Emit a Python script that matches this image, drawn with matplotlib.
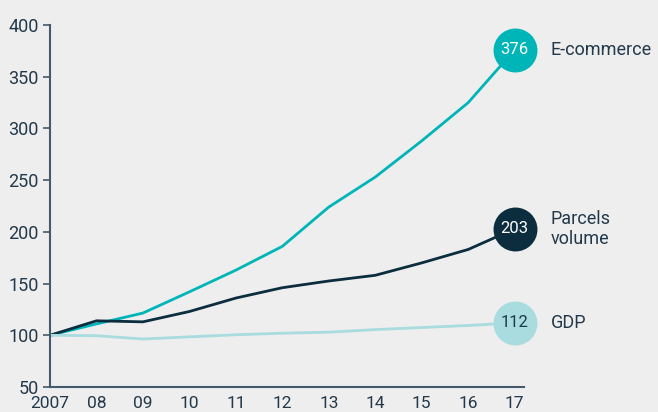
import matplotlib
matplotlib.use("Agg")
import matplotlib.pyplot as plt

# index values, 2007 = 100
years = [2007, 2008, 2009, 2010, 2011, 2012, 2013, 2014, 2015, 2016, 2017]
year_labels = ["2007", "08", "09", "10", "11", "12", "13", "14", "15", "16", "17"]
ecommerce = [100, 111, 121.5, 142, 163, 186, 224, 253, 288, 325, 376]
parcels = [100, 114, 113, 123, 136, 146, 152.5, 158, 170, 183, 203]
gdp = [100, 99.6, 96.4, 98.5, 100.5, 102, 103, 105.5, 107.5, 109.5, 112]

series = [
    ("E-commerce", ecommerce, "#00b5b8", "white"),
    ("Parcels\nvolume", parcels, "#0b2d3d", "white"),
    ("GDP", gdp, "#a8dcdf", "#1f3a48"),
]

bg = "#eeeeee"
axis_col = "#44596a"
text_col = "#23394a"

plt.rcParams["font.family"] = ["Roboto", "DejaVu Sans"]

fig = plt.figure(figsize=(6.58, 4.12), dpi=100, facecolor=bg)
ax = fig.add_axes([50 / 658, 25 / 412, 474 / 658, 362 / 412])
ax.set_facecolor(bg)

for name, vals, col, tcol in series:
    ax.plot(years, vals, color=col, lw=2.0, solid_capstyle="round", zorder=2)
    ax.scatter([years[-1]], [vals[-1]], s=1000, color=col, zorder=3, clip_on=False, lw=0)
    ax.text(years[-1], vals[-1], f"{vals[-1]:.0f}", color=tcol, fontsize=12,
            ha="center", va="center", zorder=4)
    ax.annotate(name, (years[-1], vals[-1]), xytext=(26, 0), textcoords="offset points",
                color=text_col, fontsize=13, ha="left", va="center",
                linespacing=1.15, annotation_clip=False)

ax.set_xlim(2007, 2017.2)
ax.set_ylim(50, 400)
ax.set_yticks(range(50, 401, 50))
ax.set_xticks(years)
ax.set_xticklabels(year_labels)

for s in ["top", "right"]:
    ax.spines[s].set_visible(False)
for s in ["left", "bottom"]:
    ax.spines[s].set_color(axis_col)
    ax.spines[s].set_linewidth(1.5)

ax.tick_params(axis="y", colors=axis_col, length=5, width=1.2, labelsize=13,
               labelcolor=text_col, pad=3)
ax.tick_params(axis="x", length=0, labelsize=12.5, labelcolor=text_col, pad=6.5)

fig.savefig("out.png", dpi=100, facecolor=bg)
